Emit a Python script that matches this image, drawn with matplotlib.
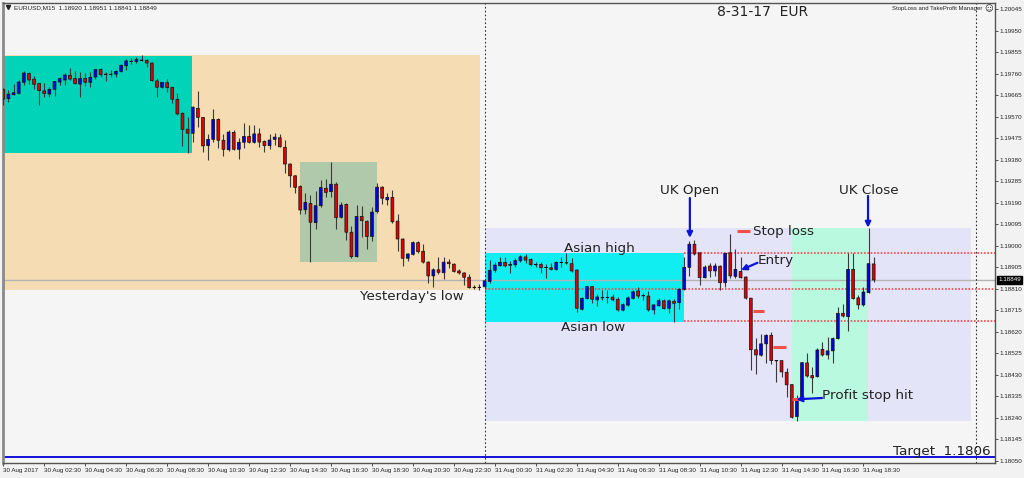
import numpy as np
import matplotlib
matplotlib.use("Agg")
import matplotlib.pyplot as plt
from matplotlib.patches import Rectangle

# --- data: M15 candles, prices in points (1e-5) ---
open_pts = [
    119691, 119650, 119667, 119673, 119722, 119761, 119736, 119717, 119684, 119670, 119691, 119723, 119732, 119753, 119739, 119714,
    119739, 119722, 119745, 119779, 119758, 119758, 119758, 119770, 119795, 119815, 119813, 119820, 119819, 119807, 119728, 119700,
    119720, 119700, 119647, 119585, 119515, 119497, 119607, 119567, 119442, 119470, 119558, 119466, 119424, 119501, 119426, 119457,
    119483, 119457, 119494, 119461, 119442, 119470, 119477, 119435, 119361, 119309, 119262, 119159, 119187, 119102, 119177, 119254,
    119239, 119272, 119126, 119183, 119060, 118952, 119130, 119108, 119041, 119151, 119259, 119203, 119214, 119109, 119030, 118945,
    118962, 119014, 118976, 118928, 118867, 118894, 118881, 118928, 118919, 118889, 118880, 118861, 118817, 118817, 118819, 118843,
    118892, 118912, 118927, 118914, 118916, 118934, 118951, 118940, 118918, 118918, 118905, 118903, 118896, 118927, 118925, 118921,
    118893, 118720, 118767, 118820, 118761, 118771, 118772, 118774, 118764, 118716, 118738, 118768, 118801, 118780, 118778, 118717,
    118735, 118757, 118724, 118755, 118749, 118808, 118905, 119007, 118969, 118859, 118911, 118889, 118910, 118837, 118969, 118865,
    118887, 118862, 118769, 118541, 118517, 118567, 118605, 118494, 118493, 118442, 118387, 118246, 118319, 118483, 118427, 118422,
    118543, 118518, 118536, 118590, 118702, 118687, 118896, 118770, 118739, 118793, 118920,
]
high_pts = [
    119697, 119688, 119714, 119732, 119773, 119767, 119750, 119720, 119720, 119703, 119729, 119747, 119763, 119783, 119772, 119767,
    119761, 119766, 119782, 119783, 119769, 119776, 119776, 119802, 119823, 119828, 119832, 119841, 119823, 119811, 119739, 119724,
    119735, 119703, 119673, 119592, 119570, 119619, 119685, 119570, 119492, 119602, 119563, 119492, 119511, 119511, 119474, 119541,
    119533, 119533, 119521, 119467, 119494, 119497, 119494, 119467, 119364, 119312, 119268, 119231, 119224, 119242, 119290, 119293,
    119371, 119283, 119195, 119187, 119088, 119180, 119177, 119114, 119173, 119279, 119262, 119231, 119246, 119139, 119033, 118967,
    119023, 119023, 119007, 118931, 118900, 118951, 118949, 118940, 118923, 118896, 118883, 118875, 118827, 118831, 118852, 118937,
    118930, 118951, 118949, 118934, 118945, 118959, 118962, 118945, 118930, 118930, 118918, 118923, 118934, 118951, 118967, 118945,
    118896, 118775, 118823, 118823, 118787, 118805, 118805, 118787, 118775, 118746, 118780, 118805, 118820, 118790, 118801, 118743,
    118768, 118765, 118767, 118765, 118812, 118950, 119022, 119026, 118974, 118915, 118923, 118923, 118915, 118970, 119052, 118986,
    118951, 118867, 118771, 118592, 118609, 118609, 118621, 118495, 118496, 118462, 118390, 118341, 118488, 118526, 118464, 118550,
    118577, 118599, 118599, 118731, 118743, 118970, 118967, 118783, 118820, 119077, 118951,
]
low_pts = [
    119622, 119635, 119666, 119670, 119710, 119714, 119692, 119622, 119658, 119657, 119661, 119710, 119710, 119732, 119713, 119658,
    119707, 119702, 119735, 119744, 119729, 119747, 119747, 119767, 119776, 119802, 119806, 119816, 119788, 119726, 119658, 119697,
    119680, 119632, 119578, 119441, 119410, 119459, 119526, 119415, 119379, 119459, 119430, 119398, 119420, 119423, 119383, 119430,
    119453, 119453, 119437, 119415, 119427, 119445, 119435, 119320, 119258, 119233, 119140, 119141, 118929, 119074, 119172, 119217,
    119214, 119074, 119122, 119026, 118945, 118949, 119041, 118984, 119023, 119144, 119185, 119180, 119099, 118978, 118911, 118934,
    118960, 118969, 118925, 118834, 118820, 118875, 118853, 118901, 118885, 118875, 118827, 118812, 118809, 118805, 118808, 118837,
    118886, 118911, 118905, 118879, 118905, 118927, 118925, 118912, 118905, 118879, 118858, 118893, 118893, 118908, 118921, 118886,
    118707, 118717, 118764, 118746, 118732, 118761, 118749, 118757, 118714, 118711, 118735, 118765, 118768, 118761, 118714, 118699,
    118732, 118720, 118702, 118663, 118720, 118805, 118868, 118961, 118827, 118856, 118861, 118868, 118805, 118817, 118857, 118859,
    118856, 118764, 118452, 118434, 118514, 118482, 118477, 118398, 118422, 118334, 118238, 118228, 118316, 118422, 118352, 118420,
    118515, 118499, 118484, 118587, 118687, 118624, 118764, 118720, 118734, 118790, 118841,
]
close_pts = [
    119648, 119670, 119676, 119723, 119763, 119732, 119713, 119685, 119672, 119691, 119726, 119738, 119754, 119736, 119716, 119739,
    119722, 119744, 119779, 119755, 119757, 119757, 119770, 119797, 119816, 119814, 119823, 119819, 119807, 119729, 119700, 119722,
    119698, 119647, 119582, 119514, 119497, 119612, 119567, 119441, 119470, 119558, 119466, 119426, 119502, 119426, 119457, 119483,
    119457, 119494, 119458, 119442, 119467, 119480, 119437, 119361, 119309, 119258, 119158, 119192, 119104, 119177, 119257, 119236,
    119272, 119124, 119180, 119060, 118952, 119130, 119111, 119041, 119149, 119259, 119210, 119214, 119106, 119030, 118945, 118964,
    119014, 118974, 118928, 118867, 118894, 118883, 118928, 118921, 118887, 118880, 118861, 118815, 118816, 118816, 118845, 118892,
    118915, 118927, 118911, 118918, 118934, 118951, 118937, 118916, 118916, 118903, 118904, 118896, 118927, 118926, 118924, 118889,
    118724, 118768, 118820, 118764, 118774, 118770, 118771, 118761, 118717, 118740, 118770, 118797, 118778, 118779, 118717, 118739,
    118758, 118723, 118757, 118746, 118808, 118905, 119007, 118964, 118859, 118906, 118889, 118911, 118837, 118967, 118867, 118896,
    118859, 118769, 118541, 118518, 118567, 118605, 118493, 118492, 118443, 118386, 118243, 118319, 118484, 118425, 118417, 118540,
    118518, 118536, 118590, 118702, 118690, 118896, 118767, 118739, 118796, 118921, 118849,
]

y_ticks = [1.20045 - 0.00095 * k for k in range(22)]
x_tick_bars = list(range(0, 169, 8))
x_labels = ["30 Aug 2017"] + [f"30 Aug {h:02d}:30" for h in range(2, 24, 2)] + [f"31 Aug {h:02d}:30" for h in range(0, 20, 2)]

last_price = 1.18849
target_price = 1.18067
asian_high, asian_mid, asian_low = 1.18970, 1.18808, 1.18670

# shaded boxes: bar from, bar to, price low, price high, colour
boxes = [
    (-0.06, 93.1, 1.18805, 1.19842, "#f5dcb2"),
    (-0.06, 36.85, 1.19410, 1.19838, "#00d3b7"),
    (57.95, 73.0, 1.18929, 1.19371, "#b1c9ab"),
    (94.0, 189.0, 1.18227, 1.19080, "#e4e4f8"),
    (94.0, 132.95, 1.18665, 1.18970, "#10eef2"),
    (154.0, 168.9, 1.18227, 1.19080, "#b9f9df"),
]

fig = plt.figure(figsize=(10.24, 4.78), dpi=100, facecolor="#f2f2f2")
ax = fig.add_axes([3 / 1024, 1 - 463 / 478, 992 / 1024, 460 / 478], facecolor="#f5f5f5")
ax.set_xlim(-0.06, 193.7)
ax.set_ylim(1.18041, 1.20072)

for x0, x1, lo, hi, col in boxes:
    ax.add_patch(Rectangle((x0, lo), x1 - x0, hi - lo, facecolor=col, edgecolor="none", zorder=1))

# --- levels ---
ax.axhline(last_price, color="#b4b4b4", lw=1, zorder=2)
ax.axhline(target_price, color="#0000d8", lw=1.3, zorder=2)
ax.axvline(94, color="#333333", lw=0.8, ls=(0, (1.5, 2)), zorder=2)
ax.axvline(190, color="#333333", lw=0.8, ls=(0, (1.5, 2)), zorder=2)
red_dots = dict(color="#f04a4a", lw=1.2, ls=(0, (1, 1)), zorder=2)
ax.plot([132.95, 193.7], [asian_high, asian_high], **red_dots)
ax.plot([94, 193.7], [asian_mid, asian_mid], **red_dots)
ax.plot([132.95, 193.7], [asian_low, asian_low], **red_dots)

# --- candles ---
o = np.array(open_pts) / 1e5
h = np.array(high_pts) / 1e5
l = np.array(low_pts) / 1e5
c = np.array(close_pts) / 1e5
bars = np.arange(len(o))
colors = np.where(c > o, "#0000e6", "#e00000")
ax.vlines(bars, l, h, color="#3a3a3a", lw=0.8, zorder=3)
bodies = ax.bar(bars, np.abs(c - o), bottom=np.minimum(o, c), width=0.56, color=colors,
                edgecolor="#111111", linewidth=0.5, zorder=4)
for b in bodies:
    b.set_snap(False)

# --- stop markers ---
for b0, b1, p in [(143.3, 145.8, 1.19065), (146.4, 148.6, 1.18712), (150.4, 152.9, 1.18555), (154.0, 155.4, 1.18324)]:
    ax.plot([b0, b1], [p, p], color="#f0504a", lw=2.2, solid_capstyle="butt", zorder=5)

# --- annotations ---
notes = [
    ("UK Open", 128.3, 1.19242), ("UK Close", 163.2, 1.19246), ("Asian high", 109.5, 1.18990),
    ("Asian low", 109.0, 1.18638), ("Yesterday's low", 69.6, 1.18778), ("Stop loss", 146.4, 1.19065),
    ("Entry", 147.4, 1.18937), ("Profit stop hit", 159.9, 1.18337), ("Target  1.1806", 173.8, 1.18090),
]
for txt, b, p in notes:
    ax.text(b, p, txt, fontsize=9.7, color="#222222", va="center", ha="left", zorder=7)
ax.text(139.4, 1.20032, "8-31-17  EUR", fontsize=10, color="#222222", va="center", ha="left", zorder=7)

arrows = [
    ((134.1, 1.19211), (134.1, 1.19035)),
    ((168.9, 1.19220), (168.9, 1.19080)),
    ((147.3, 1.18925), (144.1, 1.18893)),
    ((159.9, 1.18328), (154.9, 1.18322)),
]
for tail, tip in arrows:
    ax.annotate("", xy=tip, xytext=tail, zorder=6,
                arrowprops=dict(arrowstyle="-|>", color="#0a14d8", lw=1.6, mutation_scale=8, shrinkA=0, shrinkB=0))

# --- header ---
ax.text(2.0, 1.20053, "EURUSD,M15  1.18920 1.18951 1.18841 1.18849", fontsize=4.6, color="#222222",
        va="center", family="Liberation Sans")
ax.plot([0.9], [1.20053], marker="v", ms=3, color="#222222", zorder=7)
ax.text(191.3, 1.20047, "StopLoss and TakeProfit Manager", fontsize=4.3, color="#222222", va="center", ha="right",
        family="Liberation Sans")
ax.text(192.4, 1.20047, "\u263a", fontsize=6, color="#222222", va="center", ha="center")

# --- axes ---
ax.yaxis.tick_right()
ax.set_yticks(y_ticks)
ax.set_yticklabels([f"{v:.5f}" for v in y_ticks], fontsize=4.5, family="Liberation Sans", color="#222222")
ax.set_xticks(x_tick_bars)
ax.set_xticklabels(x_labels, fontsize=4.5, family="Liberation Sans", color="#222222", ha="left")
ax.tick_params(axis="both", length=2, width=0.6, color="#333333", pad=1.5)
for s in ax.spines.values():
    s.set_color("#555555")
    s.set_linewidth(1)
ax.spines["left"].set_linewidth(2)
ax.spines["left"].set_color("#8a8a8a")

ax.text(1.0145, last_price, f"{last_price:.5f}", transform=ax.get_yaxis_transform(), fontsize=4.5, color="white",
        va="center", ha="center", family="Liberation Sans", zorder=8,
        bbox=dict(facecolor="black", edgecolor="black", pad=1), clip_on=False)

fig.savefig("out.png", dpi=100, facecolor=fig.get_facecolor())
